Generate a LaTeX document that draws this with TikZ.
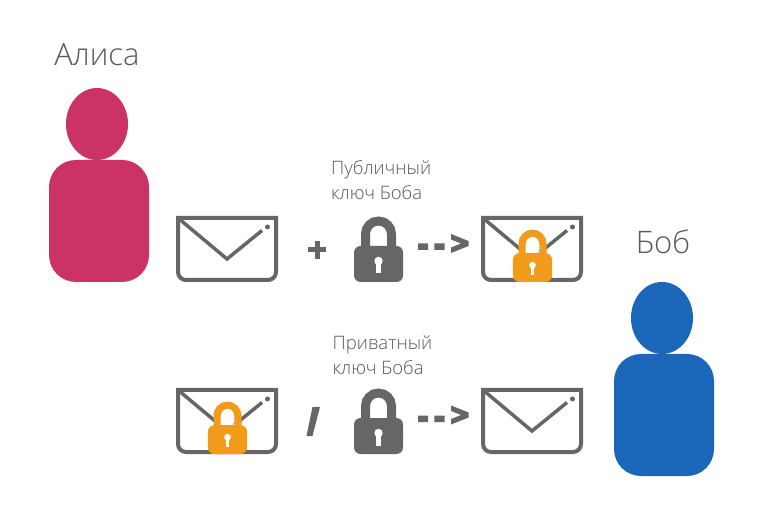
\documentclass[tikz,border=0pt]{standalone}
\usepackage{fontspec}
\setmainfont{Open Sans Light}
\definecolor{inkgray}{HTML}{666666}
\definecolor{textgray}{HTML}{595959}
\definecolor{alicecol}{HTML}{CB3365}
\definecolor{bobcol}{HTML}{1A66B8}
\definecolor{lockorange}{HTML}{F09B1A}
\tikzset{
  x=1pt,y=1pt,
  bigname/.style={text=textgray,font=\fontsize{31}{35}\selectfont,inner sep=0pt,anchor=center},
  keylabel/.style={text=textgray,font=\fontsize{18.5}{25}\selectfont,inner sep=0pt,align=left,anchor=west},
  envelope/.pic={
    \draw[inkgray,line width=4pt,line join=miter]
      (0,0) -- (98,0) [rounded corners=8pt] -- (98,-62) -- (0,-62) [sharp corners] -- cycle;
    \draw[inkgray,line width=3.5pt,line join=miter] (0,0) -- (49,-41) -- (84,-12.5);
    \fill[inkgray] (89.5,-9) circle (2.5);
  },
  lockpic/.pic={
    % origin: bottom centre of the body
    \fill[white] (-13,36) rectangle (13,48) (0,48) circle (13);
    \draw[pic actions,fill=none,line width=\pgfkeysvalueof{/tikz/shacklew},line cap=butt]
      (-13,30) -- (-13,48) arc[start angle=180,end angle=0,radius=13] -- (13,30);
    \fill[pic actions,draw=none,rounded corners=6.5pt] (-24.5,0) rectangle (24.5,36);
    \fill[white] (0,21) circle (4.2);
    \fill[white] (-2.1,8.5) rectangle (2.1,21);
  },
  shacklew/.initial=9pt,
  person/.style={fill=#1,rounded corners=27pt},
  headshape/.style={fill=#1},
  dashbit/.style={fill=inkgray},
  chevron/.style={fill=inkgray},
  plusbar/.style={draw=inkgray,line width=5pt},
}
\begin{document}
\begin{tikzpicture}
\useasboundingbox (0,0) rectangle (775,519);
\fill[white] (0,0) rectangle (775,519);

% Alice
\node[bigname] (alice) at (97,464) {Алиса};
\fill[person=alicecol] (49,237) rectangle (149,359);
\fill[headshape=alicecol] (97,395) ellipse [x radius=31,y radius=36];

% Bob
\node[bigname] (bob) at (663,277) {Боб};
\fill[person=bobcol] (614,43) rectangle (714,165);
\fill[headshape=bobcol] (662,201) ellipse [x radius=31,y radius=36];

% Top row
\pic at (178,301) {envelope};
\draw[plusbar] (308,269) -- (326,269) (317,259.7) -- (317,278.3);
\node[keylabel] (pub) at (331,339) {Публичный\\ключ Боба};
\pic[fill=inkgray,draw=inkgray] at (378.5,237) {lockpic};
\fill[dashbit] (418,269) rectangle (428,275.7) (434.3,269) rectangle (444.5,275.7);
\fill[chevron] (451,285) -- (468.5,278) -- (468.5,273) -- (451,266) -- (451,271.5) -- (461,275.5) -- (451,279.5) -- cycle;
\pic at (483,301) {envelope};
\begin{scope}[shacklew=7.2pt]
\pic[fill=lockorange,draw=lockorange,scale=0.8] at (532.5,237) {lockpic};
\end{scope}

% Bottom row
\pic at (178,129) {envelope};
\begin{scope}[shacklew=7.2pt]
\pic[fill=lockorange,draw=lockorange,scale=0.8] at (227.5,65) {lockpic};
\end{scope}
\fill[inkgray] (312.5,112) -- (320,112) -- (312.5,83) -- (306.5,83) -- cycle;
\node[keylabel] (priv) at (332.5,164) {Приватный\\ключ Боба};
\pic[fill=inkgray,draw=inkgray] at (378.5,65) {lockpic};
\fill[dashbit] (418,97) rectangle (428,103.5) (434.3,97) rectangle (444.5,103.5);
\fill[chevron] (451,113.5) -- (468.5,106.5) -- (468.5,101.5) -- (451,94.5) -- (451,100) -- (461,104) -- (451,108) -- cycle;
\pic at (483,129) {envelope};
\end{tikzpicture}
\end{document}
